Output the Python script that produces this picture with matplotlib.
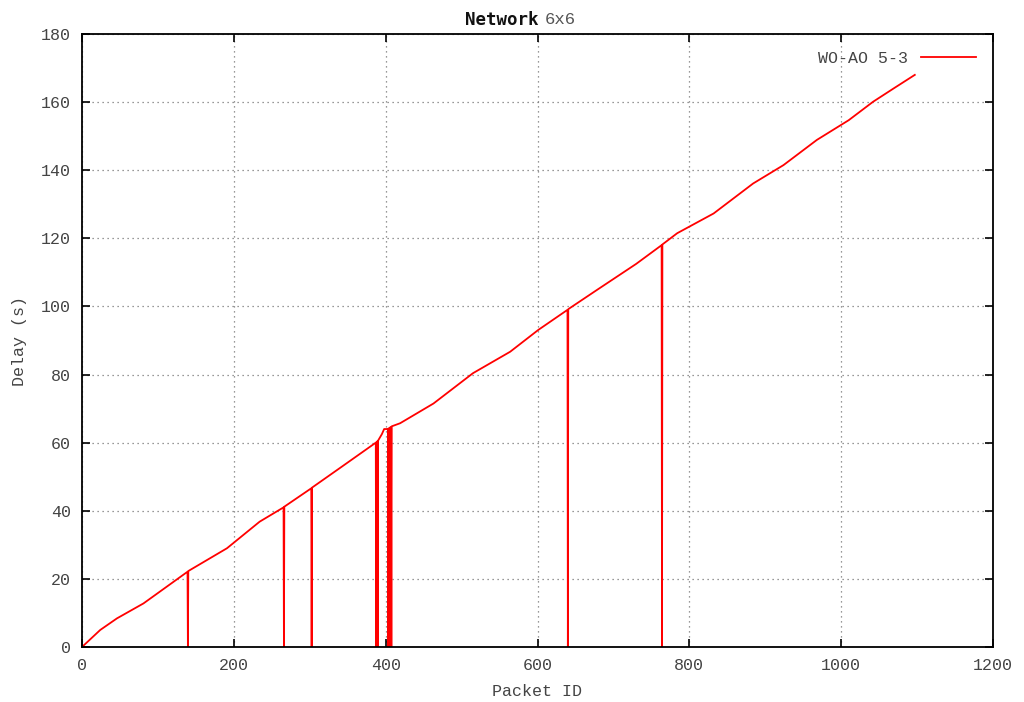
import matplotlib
matplotlib.use("Agg")
import matplotlib.pyplot as plt

# packet id / delay values (drops to 0 are lost packets)
packet_id = [0, 24, 46, 81, 139, 139.5, 140, 191, 234, 265.5, 266, 266.5,
             302, 302.5, 303, 340, 387, 387.5, 388, 389, 389.5, 390,
             395, 398, 403, 403.5, 404, 405, 405.5, 406, 407, 407.5, 408,
             419, 463, 515, 564, 601, 639.5, 640, 640.5, 678, 730, 763.5, 764,
             764.5, 784, 832, 884, 924, 968, 1010, 1042, 1069, 1097]
delay = [0, 5, 8.4, 12.8, 22.1, 0, 22.3, 29, 36.8, 41, 0, 41.2,
         46.6, 0, 46.8, 52.6, 60, 0, 60.2, 60.4, 0, 60.6,
         62.5, 64, 64, 0, 64.2, 64.3, 0, 64.5, 64.6, 0, 64.8,
         65.7, 71.5, 80.4, 86.7, 93.1, 99, 0, 99.2, 104.8, 112.5, 118, 0,
         118.2, 121.5, 127.3, 136.1, 141.5, 148.9, 154.7, 160.1, 164, 168]

x_ticks = [0, 200, 400, 600, 800, 1000, 1200]
y_ticks = [0, 20, 40, 60, 80, 100, 120, 140, 160, 180]
series_label = "WO-AO 5-3"

mono = "Liberation Mono"
fig = plt.figure(figsize=(10.24, 7.02), dpi=100)
ax = fig.add_axes([82/1024, 55/702, 911/1024, 613/702])

ax.plot(packet_id, delay, color="#ff0000", lw=1.3, label=series_label)

ax.set_xlim(0, 1200)
ax.set_ylim(0, 180)
ax.set_xticks(x_ticks)
ax.set_yticks(y_ticks)
ax.tick_params(direction="in", length=6, width=1.2, top=True, right=True,
               labelsize=12, labelcolor="#444444", pad=8)
for lab in ax.get_xticklabels() + ax.get_yticklabels():
    lab.set_fontfamily(mono)
ax.grid(True, linestyle=(0, (1, 3)), color="#777777", lw=0.9)
for s in ax.spines.values():
    s.set_linewidth(1.3)

ax.set_xlabel("Packet ID", fontfamily=mono, fontsize=12, color="#444444", labelpad=8)
ax.set_ylabel("Delay (s)", fontfamily=mono, fontsize=12, color="#444444", labelpad=10)

leg = ax.legend(loc="upper right", frameon=False, handlelength=3.3,
                prop={"family": mono, "size": 12}, borderaxespad=0.6,
                handletextpad=0.8, markerfirst=False)
for t in leg.get_texts():
    t.set_color("#444444")

fig.text(539/1024, 0.985, "Network", fontfamily="DejaVu Sans Mono", fontweight="bold",
         fontsize=12.5, ha="right", va="top", color="#111111")
fig.text(545/1024, 0.983, "6x6", fontfamily=mono,
         fontsize=12.5, ha="left", va="top", color="#555555")

fig.savefig("out.png", dpi=100)
